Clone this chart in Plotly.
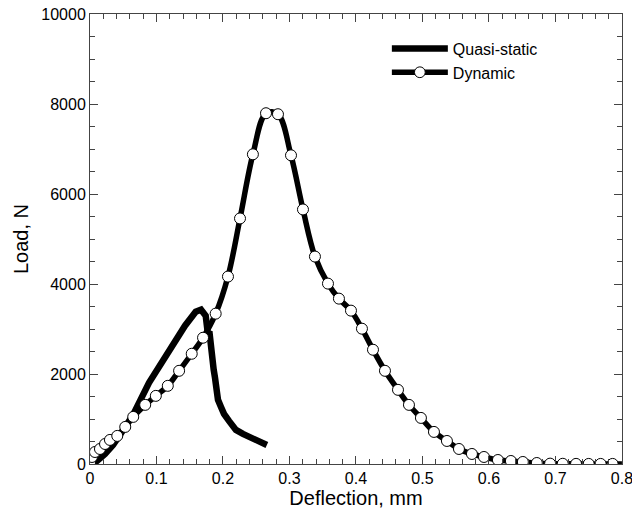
import plotly.graph_objects as go

# Quasi-static test (thick noisy trace)
qs_x = [0, 0.0105, 0.0226, 0.0346, 0.048, 0.0647, 0.0887, 0.1188, 0.1429, 0.159, 0.167,
        0.174, 0.1774, 0.1795, 0.182, 0.1835, 0.186, 0.188, 0.191, 0.1925, 0.197,
        0.2015, 0.209, 0.2195, 0.230, 0.242, 0.254, 0.266]
qs_y = [0, 67, 223, 423, 713, 1091, 1804, 2539, 3073, 3385, 3430,
        3296, 2873, 2950, 2539, 2138, 2100, 1915, 1648, 1425, 1269,
        1114, 958, 757, 668, 579, 490, 423]

# Dynamic test (line through the plotted circles)
dyn_x = [0, 0.003, 0.0075, 0.015, 0.0226, 0.030, 0.041, 0.053, 0.065, 0.083, 0.099,
         0.117, 0.134, 0.153, 0.170, 0.189, 0.2075, 0.2256, 0.245, 0.2647, 0.2827,
         0.3023, 0.3203, 0.3383, 0.3579, 0.3744, 0.3925, 0.409, 0.4256, 0.4436,
         0.4632, 0.4797, 0.4977, 0.5173, 0.5368, 0.5549, 0.5744, 0.5925, 0.6135,
         0.633, 0.651, 0.672, 0.692, 0.711, 0.731, 0.750, 0.768, 0.786, 0.800]
dyn_y = [22, 156, 267, 334, 445, 535, 624, 824, 1047, 1314, 1514,
         1737, 2071, 2450, 2806, 3341, 4165, 5457, 6882, 7795, 7773,
         6860, 5657, 4610, 4009, 3675, 3408, 3007, 2539, 2071,
         1648, 1314, 1024, 713, 512, 334, 223, 156, 89,
         67, 45, 22, 8, 5, 3, 2, 2, 2, 2]

x_ticks = [0, 0.1, 0.2, 0.3, 0.4, 0.5, 0.6, 0.7, 0.8]
x_labels = ["0", "0.1", "0.2", "0.3", "0.4", "0.5", "0.6", "0.7", "0.8"]
y_ticks = [0, 2000, 4000, 6000, 8000, 10000]
y_labels = ["0", "2000", "4000", "6000", "8000", "10000"]

FONT = "Arial, Liberation Sans, sans-serif"

fig = go.Figure()
fig.add_trace(go.Scatter(x=qs_x, y=qs_y, mode="lines", name="Quasi-static",
                         line=dict(color="black", width=6.5)))
sizes = [11] * (len(dyn_x) - 1) + [0]
fig.add_trace(go.Scatter(x=dyn_x, y=dyn_y, mode="lines+markers", name="Dynamic",
                         line=dict(color="black", width=5.5, shape="spline", smoothing=1.0),
                         marker=dict(symbol="circle", size=sizes, color="#ffffff",
                                     opacity=1, line=dict(color="black", width=1))))

axis_common = dict(showline=True, linecolor="#444", linewidth=1, mirror="allticks",
                   ticks="inside", ticklen=8, tickcolor="#444", tickwidth=1,
                   showgrid=False, zeroline=False, automargin=False,
                   ticklabeloverflow="allow",
                   tickfont=dict(family=FONT, size=16, color="black"))

fig.update_xaxes(range=[0, 0.8001], tickvals=x_ticks, ticktext=x_labels,
                 minor=dict(dtick=0.02, ticks="inside", ticklen=5, tickcolor="#444"),
                 title=dict(text="Deflection, mm", font=dict(family=FONT, size=20, color="black"),
                            standoff=4),
                 **axis_common)
fig.update_yaxes(range=[0, 10000], tickvals=y_ticks, ticktext=y_labels,
                 minor=dict(dtick=500, ticks="inside", ticklen=5, tickcolor="#444"),
                 title=dict(text="Load, N", font=dict(family=FONT, size=20, color="black"),
                            standoff=7),
                 **axis_common)

fig.update_layout(width=632, height=516, plot_bgcolor="white", paper_bgcolor="white",
                  margin=dict(l=90, r=10, t=14, b=52),
                  font=dict(family=FONT, color="black"),
                  legend=dict(x=0.558, y=0.961, xanchor="left", yanchor="top",
                              bgcolor="rgba(0,0,0,0)", font=dict(family=FONT, size=16),
                              itemwidth=56, tracegroupgap=0))

# page body margin off so the figure sits at the window's top-left corner
fig.write_html("out.html", config={"displayModeBar": False},
               post_script="document.body.style.margin='0';")
